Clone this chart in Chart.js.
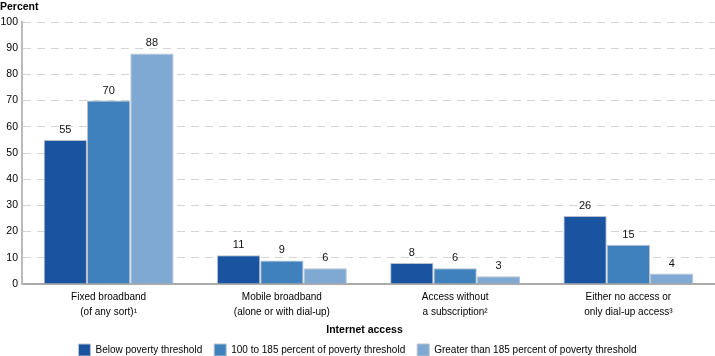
<!DOCTYPE html>
<html>
<head>
<meta charset="utf-8">
<script src="https://cdn.jsdelivr.net/npm/chart.js@4"></script>
<style>
html,body{margin:0;padding:0;background:#fff;}
#wrap{width:715px;height:356px;position:relative;}
</style>
</head>
<body>
<div id="wrap"><canvas id="c" width="715" height="356"></canvas></div>
<script>
const categories = [
  ["Fixed broadband", "(of any sort)\u00B9"],
  ["Mobile broadband", "(alone or with dial-up)"],
  ["Access without", "a subscription\u00B2"],
  ["Either no access or", "only dial-up access\u00B3"]
];
const seriesNames = ["Below poverty threshold", "100 to 185 percent of poverty threshold", "Greater than 185 percent of poverty threshold"];
const belowPoverty = [55, 11, 8, 26];
const midPoverty = [70, 9, 6, 15];
const abovePoverty = [88, 6, 3, 4];
const yTicks = [0, 10, 20, 30, 40, 50, 60, 70, 80, 90, 100];
const colors = ["#1a54a0", "#3f81bd", "#7fa9d3"];

const FONT = "'Liberation Sans', Arial, Helvetica, sans-serif";
Chart.defaults.font.family = FONT;
Chart.defaults.color = "#000";

const valueLabels = {
  id: "valueLabels",
  afterDatasetsDraw(chart) {
    const ctx = chart.ctx;
    ctx.save();
    ctx.font = "11px " + FONT;
    ctx.fillStyle = "#111";
    ctx.textAlign = "center";
    ctx.textBaseline = "middle";
    chart.data.datasets.forEach((ds, i) => {
      const meta = chart.getDatasetMeta(i);
      meta.data.forEach((bar, j) => {
        ctx.fillText(String(ds.data[j]), bar.x, bar.y - 10);
      });
    });
    ctx.restore();
  }
};

const extraText = {
  id: "extraText",
  afterDraw(chart) {
    const ctx = chart.ctx;
    ctx.save();
    ctx.font = "bold 10.5px " + FONT;
    ctx.fillStyle = "#000";
    ctx.textAlign = "left";
    ctx.textBaseline = "middle";
    ctx.fillText("Percent", 0, 7);
    ctx.textAlign = "center";
    ctx.font = "bold 10.5px " + FONT;
    const ca = chart.chartArea;
    ctx.fillText("Internet access", (ca.left + ca.right) / 2 - 4, 330);
    ctx.restore();
  }
};

new Chart(document.getElementById("c"), {
  type: "bar",
  data: {
    labels: categories,
    datasets: [
      { label: seriesNames[0], data: belowPoverty, backgroundColor: colors[0] },
      { label: seriesNames[1], data: midPoverty, backgroundColor: colors[1] },
      { label: seriesNames[2], data: abovePoverty, backgroundColor: colors[2] }
    ].map(d => Object.assign(d, { borderColor: "#b9c2cc", borderWidth: 1, categoryPercentage: 0.75, barPercentage: 1 }))
  },
  options: {
    responsive: false,
    animation: false,
    devicePixelRatio: 1,
    layout: { padding: { top: 22, left: 0, right: 0, bottom: -10 } },
    plugins: {
      legend: {
        position: "bottom",
        labels: { boxWidth: 12, boxHeight: 12, padding: 12, font: { size: 10 }, color: "#000" }
      },
      tooltip: { enabled: false },
      title: { display: false }
    },
    scales: {
      x: {
        afterFit(axis) { axis.height = 48; },
        grid: { display: false, drawTicks: false },
        border: { color: "#aaaaaa", width: 2 },
        ticks: { font: { size: 10, lineHeight: 1.5 }, color: "#000", padding: 6, maxRotation: 0 }
      },
      y: {
        min: 0, max: 100,
        afterBuildTicks(axis) { axis.ticks = yTicks.map(v => ({ value: v })); },
        afterFit(axis) { axis.width = 22; },
        grid: {
          color: (c) => c.tick && c.tick.value === 0 ? "rgba(0,0,0,0)" : "#d4d4d4",
          drawTicks: false, lineWidth: 1, borderDash: [8, 6]
        },
        border: { dash: [8, 6], color: "#bbbbbb", width: 2 },
        ticks: { font: { size: 10.5 }, color: "#000", padding: 4 }
      }
    }
  },
  plugins: [valueLabels, extraText]
});
</script>
</body>
</html>
